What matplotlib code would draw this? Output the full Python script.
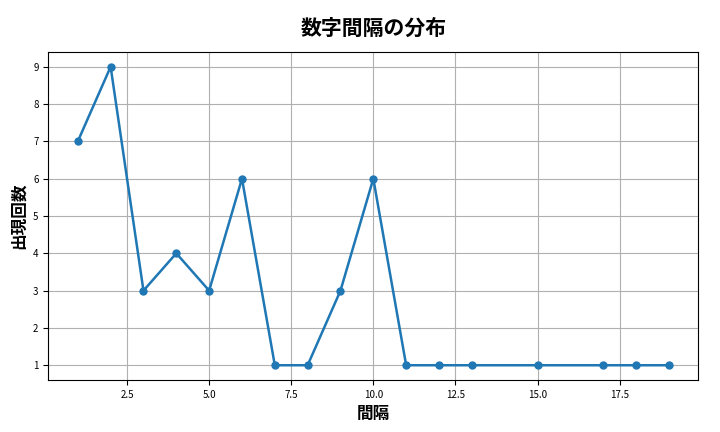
import matplotlib
matplotlib.use('Agg')
import matplotlib.pyplot as plt

plt.rcParams['font.family'] = ['Noto Sans CJK JP', 'DejaVu Sans']

# 間隔と出現回数
intervals = [1, 2, 3, 4, 5, 6, 7, 8, 9, 10, 11, 12, 13, 15, 17, 18, 19]
counts = [7, 9, 3, 4, 3, 6, 1, 1, 3, 6, 1, 1, 1, 1, 1, 1, 1]

fig, ax = plt.subplots(figsize=(7.2, 4.32), dpi=100)
ax.plot(intervals, counts, marker='o', markersize=5, linewidth=1.8, color='#1f77b4')
ax.set_title('数字間隔の分布', fontsize=15, fontweight='bold', pad=12)
ax.set_xlabel('間隔', fontsize=12, fontweight='bold')
ax.set_ylabel('出現回数', fontsize=12, fontweight='bold')
ax.tick_params(labelsize=7)
ax.grid(True, color='#b0b0b0', linewidth=0.8)
fig.subplots_adjust(left=0.067, right=0.97, top=0.88, bottom=0.12)
fig.savefig('out.png', dpi=100)
